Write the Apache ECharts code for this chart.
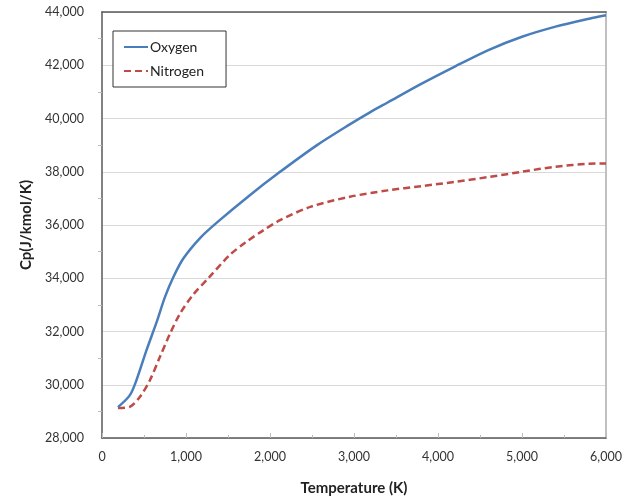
<!DOCTYPE html>
<html>
<head>
<meta charset="utf-8">
<script src="https://cdn.jsdelivr.net/npm/echarts@6/dist/echarts.min.js"></script>
<style>
  html, body { margin: 0; padding: 0; background: #fff; }
  #chart { width: 633px; height: 501px; }
</style>
</head>
<body>
<div id="chart"></div>
<script>
// temperature (K) and Cp (J/kmol/K)
var oxygenT  = [190, 330, 410, 530, 650, 750, 850, 970, 1170, 1370, 1760, 2100, 2560, 2950, 3200, 3400, 3800, 4200, 4600, 5000, 5400, 5800, 6000];
var oxygenCp = [29160, 29600, 30170, 31300, 32350, 33300, 34050, 34750, 35520, 36100, 37120, 37950, 39000, 39780, 40250, 40600, 41300, 41950, 42570, 43070, 43450, 43750, 43880];

var nitrogenT  = [190, 330, 450, 570, 690, 810, 930, 1090, 1266, 1520, 1720, 1920, 2120, 2480, 2950, 3400, 3800, 4200, 4600, 5000, 5400, 5800, 6000];
var nitrogenCp = [29130, 29170, 29540, 30170, 31050, 31920, 32680, 33400, 34000, 34870, 35370, 35800, 36180, 36680, 37060, 37300, 37460, 37620, 37800, 38000, 38190, 38300, 38310];

function pairs(xs, ys) {
    return xs.map(function(x, i) { return [x, ys[i]]; });
}

function comma(v) {
    return v.toLocaleString('en-US');
}

var font = 'Lato, "Liberation Sans", sans-serif';

var chart = echarts.init(document.getElementById('chart'));

var option = {
    backgroundColor: '#fff',
    animation: false,
    textStyle: { fontFamily: font },
    grid: { left: 102, right: 27, top: 12, bottom: 63, containLabel: false },
    legend: {
        orient: 'vertical',
        left: 113,
        top: 31,
        padding: [9, 22, 9, 10],
        itemGap: 10,
        itemWidth: 24,
        itemHeight: 10,
        backgroundColor: '#fff',
        borderColor: '#333',
        borderWidth: 1,
        itemStyle: { opacity: 0 },
        textStyle: { fontFamily: font, fontSize: 14, color: '#222', padding: [0, 0, 0, -3] },
        data: ['Oxygen', 'Nitrogen']
    },
    xAxis: [{
        type: 'value',
        min: 0,
        max: 6000,
        interval: 1000,
        name: 'Temperature (K)',
        nameLocation: 'middle',
        nameGap: 43,
        nameTextStyle: { fontFamily: font, fontSize: 15, fontWeight: 'bold', color: '#222' },
        axisLine: { show: true, lineStyle: { color: '#595959', width: 1.5 } },
        axisTick: { show: true, inside: true, length: 5, lineStyle: { color: '#bbb' } },
        minorTick: { show: true, splitNumber: 2, length: 3, lineStyle: { color: '#bbb' } },
        axisLabel: {
            margin: 12,
            fontSize: 12.5,
            color: '#333',
            formatter: function(v) { return comma(v); }
        },
        splitLine: { show: false }
    }, {
        type: 'value',
        position: 'top',
        min: 0,
        max: 6000,
        axisLine: { show: true, onZero: false, lineStyle: { color: '#595959', width: 1.5 } },
        axisTick: { show: false },
        axisLabel: { show: false },
        splitLine: { show: false }
    }],
    yAxis: [{
        type: 'value',
        min: 28000,
        max: 44000,
        interval: 2000,
        name: 'Cp(J/kmol/K)',
        nameLocation: 'middle',
        nameGap: 66,
        nameTextStyle: { fontFamily: font, fontSize: 15, fontWeight: 'bold', color: '#222' },
        axisLine: { show: true, lineStyle: { color: '#595959', width: 1.5 } },
        axisTick: { show: false },
        minorTick: { show: true, splitNumber: 2, length: 4, lineStyle: { color: '#bbb' } },
        axisLabel: {
            margin: 18,
            fontSize: 12.5,
            color: '#333',
            formatter: function(v) { return comma(v); }
        },
        splitLine: { show: true, lineStyle: { color: '#d9d9d9', width: 1 } }
    }, {
        type: 'value',
        position: 'right',
        min: 28000,
        max: 44000,
        axisLine: { show: true, onZero: false, lineStyle: { color: '#c0c0c0', width: 2 } },
        axisTick: { show: false },
        axisLabel: { show: false },
        splitLine: { show: false }
    }],
    series: [{
        name: 'Oxygen',
        type: 'line',
        data: pairs(oxygenT, oxygenCp),
        showSymbol: false,
        symbol: 'none',
        smooth: 0.3,
        lineStyle: { color: '#4a7ebb', width: 2.5 },
        itemStyle: { color: '#4a7ebb' },
        z: 3
    }, {
        name: 'Nitrogen',
        type: 'line',
        data: pairs(nitrogenT, nitrogenCp),
        showSymbol: false,
        symbol: 'none',
        smooth: 0.3,
        lineStyle: { color: '#be4b48', width: 2.5, type: [7, 4] },
        itemStyle: { color: '#be4b48' },
        z: 2
    }]
};

chart.setOption(option);
</script>
</body>
</html>
